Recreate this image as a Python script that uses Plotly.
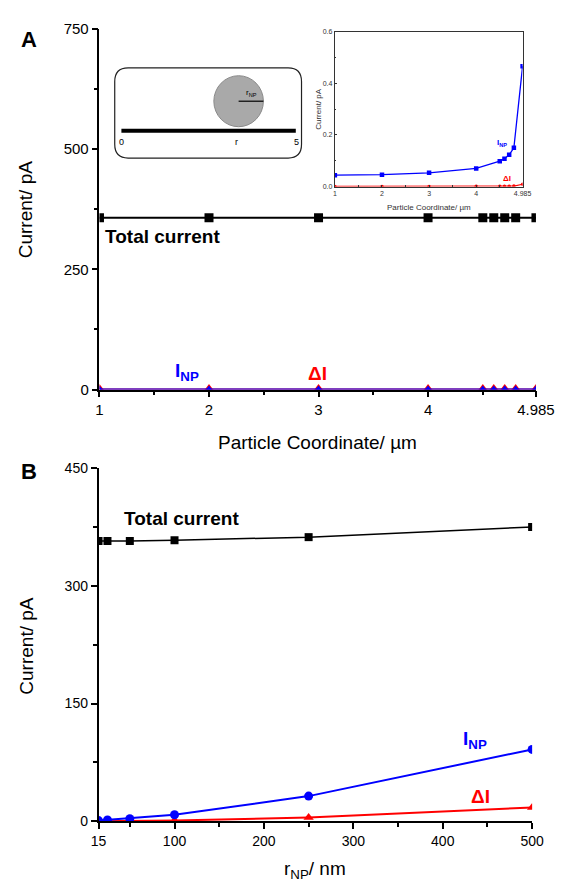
import plotly.graph_objects as go

# ---------------- data ----------------
coordA = [1, 2, 3, 4, 4.5, 4.6, 4.7, 4.8, 4.985]
totalA = [357, 357, 357, 357, 357, 357, 357, 357, 357]
inpA = [0.044, 0.046, 0.053, 0.070, 0.098, 0.108, 0.123, 0.150, 0.466]
dIA = [0.0005, 0.0005, 0.0006, 0.0008, 0.001, 0.0012, 0.0014, 0.002, 0.009]

rNP = [15, 25, 50, 100, 250, 500]
totalB = [357, 357, 357, 358, 362, 375]
inpB = [0.8, 1.6, 3.3, 8.2, 32, 91.5]
dIB = [0.05, 0.1, 0.3, 0.9, 4.8, 17.5]

xticksA = [1, 2, 3, 4, 4.985]
xtickTextA = ["1", "2", "3", "4", "4.985"]
yticksA = [0, 250, 500, 750]
xticksB = [15, 100, 200, 300, 400, 500]
yticksB = [0, 150, 300, 450]
yticksIn = [0, 0.2, 0.4, 0.6]

W, H = 574, 892
FONT = "Arial, Liberation Sans, sans-serif"
BLUE = "#0000ff"
RED = "#ff0000"


def px(x):
    return x / W


def py(y):
    return 1 - y / H


fig = go.Figure()

# ---- panel A ----
fig.add_trace(go.Scatter(x=coordA, y=dIA, mode="lines+markers", xaxis="x", yaxis="y",
                         line=dict(color=RED, width=2),
                         marker=dict(symbol="triangle-up", size=11, color=RED)))
fig.add_trace(go.Scatter(x=coordA, y=inpA, mode="lines+markers", xaxis="x", yaxis="y",
                         line=dict(color=BLUE, width=2),
                         marker=dict(symbol="triangle-up", size=8, color=BLUE)))
fig.add_trace(go.Scatter(x=coordA, y=totalA, mode="lines+markers", xaxis="x", yaxis="y",
                         line=dict(color="black", width=2),
                         marker=dict(symbol="square", size=9, color="black")))

# ---- inset ----
fig.add_trace(go.Scatter(x=coordA, y=dIA, mode="lines+markers", xaxis="x3", yaxis="y3",
                         line=dict(color=RED, width=1.2),
                         marker=dict(symbol="circle", size=3.5, color=RED)))
fig.add_trace(go.Scatter(x=coordA, y=inpA, mode="lines+markers", xaxis="x3", yaxis="y3",
                         line=dict(color=BLUE, width=1.3),
                         marker=dict(symbol="square", size=4.5, color=BLUE)))

# ---- panel B ----
fig.add_trace(go.Scatter(x=rNP, y=totalB, mode="lines+markers", xaxis="x2", yaxis="y2",
                         line=dict(color="black", width=1.5),
                         marker=dict(symbol="square", size=8, color="black")))
fig.add_trace(go.Scatter(x=rNP, y=dIB, mode="lines+markers", xaxis="x2", yaxis="y2",
                         line=dict(color=RED, width=2),
                         marker=dict(symbol="triangle-up", size=9, color=RED)))
fig.add_trace(go.Scatter(x=rNP, y=inpB, mode="lines+markers", xaxis="x2", yaxis="y2",
                         line=dict(color=BLUE, width=2),
                         marker=dict(symbol="circle", size=9, color=BLUE)))

axis_common = dict(showline=True, linecolor="black", linewidth=1.5, ticks="outside",
                   tickcolor="black", tickwidth=1.5, showgrid=False, zeroline=False,
                   tickfont=dict(family=FONT, size=15, color="black"))

fig.update_layout(
    width=W, height=H, margin=dict(l=0, r=0, t=0, b=0),
    paper_bgcolor="white", plot_bgcolor="white", showlegend=False,
    xaxis=dict(axis_common, domain=[px(96), px(554)], range=[1, 4.985], anchor="y",
               tickvals=xticksA, ticktext=xtickTextA, ticklen=6,
               minor=dict(tickvals=[1.5, 2.5, 3.5, 4.5], ticklen=4, tickwidth=1.5,
                          tickcolor="black", ticks="outside")),
    yaxis=dict(axis_common, domain=[py(388), py(20)], range=[0, 750], anchor="x",
               tickvals=yticksA, ticklen=6,
               minor=dict(tickvals=[125, 375, 625], ticklen=4, tickwidth=1.5,
                          tickcolor="black", ticks="outside")),
    xaxis2=dict(axis_common, domain=[px(95), px(550)], range=[15, 500], anchor="y2",
                tickvals=xticksB, ticklen=6, tickfont=dict(family=FONT, size=14, color="black"),
                minor=dict(tickvals=[50, 150, 250, 350, 450], ticklen=4, tickwidth=1.5,
                           tickcolor="black", ticks="outside")),
    yaxis2=dict(axis_common, domain=[py(828), py(468)], range=[0, 450], anchor="x2",
                tickvals=yticksB, ticklen=6, tickfont=dict(family=FONT, size=14, color="black"),
                minor=dict(tickvals=[75, 225, 375], ticklen=4, tickwidth=1.5,
                           tickcolor="black", ticks="outside")),
    xaxis3=dict(showline=True, linecolor="#333", linewidth=1, mirror=True, ticks="inside",
                ticklen=2, tickcolor="#333", showgrid=False, zeroline=False,
                domain=[px(343), px(540)], range=[1, 4.985], anchor="y3",
                tickvals=xticksA, ticktext=xtickTextA,
                tickfont=dict(family=FONT, size=7, color="#333"),
                minor=dict(tickvals=[1.5, 2.5, 3.5, 4.5], ticklen=1.5, tickcolor="#333",
                           ticks="inside")),
    yaxis3=dict(showline=True, linecolor="#333", linewidth=1, mirror=True, ticks="inside",
                ticklen=2, tickcolor="#333", showgrid=False, zeroline=False,
                domain=[py(181), py(23)], range=[0, 0.6], anchor="x3",
                tickvals=yticksIn, tickformat=".1f",
                tickfont=dict(family=FONT, size=7, color="#333"),
                minor=dict(tickvals=[0.1, 0.3, 0.5], ticklen=1.5, tickcolor="#333",
                           ticks="inside")),
)

ann = []


def paper_text(text, x, y, size, color="black", bold=False, angle=0, xanchor="center"):
    if bold:
        text = "<b>" + text + "</b>"
    ann.append(dict(text=text, x=px(x), y=py(y), xref="paper", yref="paper",
                    showarrow=False, textangle=angle, xanchor=xanchor, yanchor="middle",
                    font=dict(family=FONT, size=size, color=color)))


def data_text(text, x, y, xr, yr, size, color, xanchor="center"):
    ann.append(dict(text="<b>" + text + "</b>", x=x, y=y, xref=xr, yref=yr,
                    showarrow=False, xanchor=xanchor, yanchor="middle",
                    font=dict(family=FONT, size=size, color=color)))


# panel letters
paper_text("A", 22, 31, 22, bold=True)
paper_text("B", 22, 471, 22, bold=True)

# axis titles
paper_text("Current/ pA", 18, 205, 19, angle=-90)
paper_text("Particle Coordinate/ µm", 325, 442, 19)
paper_text("Current/ pA", 20, 650, 19, angle=-90)
paper_text("r<sub>NP</sub>/ nm", 322, 878, 19)

# inset titles
paper_text("Particle Coordinate/ µm", 442, 202, 8, color="#333")
paper_text("Current/ pA", 325, 102, 8, color="#333", angle=-90)

# series labels
data_text("Total current", 1.035, 318, "x", "y", 19, "black", xanchor="left")
data_text("I<sub>NP</sub>", 1.8, 36, "x", "y", 19, BLUE)
data_text("ΔI", 2.99, 33, "x", "y", 19, RED)
data_text("Total current", 41, 386, "x2", "y2", 19, "black", xanchor="left")
data_text("I<sub>NP</sub>", 436, 104, "x2", "y2", 19, BLUE)
data_text("ΔI", 442, 31, "x2", "y2", 19, RED)
data_text("I<sub>NP</sub>", 4.54, 0.167, "x3", "y3", 8, BLUE)
data_text("ΔI", 4.66, 0.03, "x3", "y3", 8, RED)

# schematic labels
paper_text("0", 119, 136, 9)
paper_text("r", 240, 136, 9)
paper_text("5", 303, 136, 9)
paper_text("r<sub>NP</sub>", 256, 86, 8)

fig.update_layout(annotations=ann)

# schematic shapes
x0, x1, y0, y1, rad = 112, 308, 60, 152, 14


def P(x, y):
    return f"{px(x):.5f},{py(y):.5f}"


path = (f"M {P(x0 + rad, y0)} L {P(x1 - rad, y0)} Q {P(x1, y0)} {P(x1, y0 + rad)} "
        f"L {P(x1, y1 - rad)} Q {P(x1, y1)} {P(x1 - rad, y1)} "
        f"L {P(x0 + rad, y1)} Q {P(x0, y1)} {P(x0, y1 - rad)} "
        f"L {P(x0, y0 + rad)} Q {P(x0, y0)} {P(x0 + rad, y0)} Z")
shapes = [
    dict(type="path", path=path, xref="paper", yref="paper",
         line=dict(color="#222", width=1.2), fillcolor="rgba(0,0,0,0)"),
    dict(type="circle", xref="paper", yref="paper",
         x0=px(216), x1=px(268), y0=py(120), y1=py(68),
         fillcolor="#a9a9a9", line=dict(color="#8a8a8a", width=1)),
    dict(type="line", xref="paper", yref="paper", x0=px(119), x1=px(302),
         y0=py(124), y1=py(124), line=dict(color="black", width=4)),
    dict(type="line", xref="paper", yref="paper", x0=px(242), x1=px(268),
         y0=py(94), y1=py(94), line=dict(color="black", width=1.2)),
]
fig.update_layout(shapes=shapes)

fig.write_html("out.html")
